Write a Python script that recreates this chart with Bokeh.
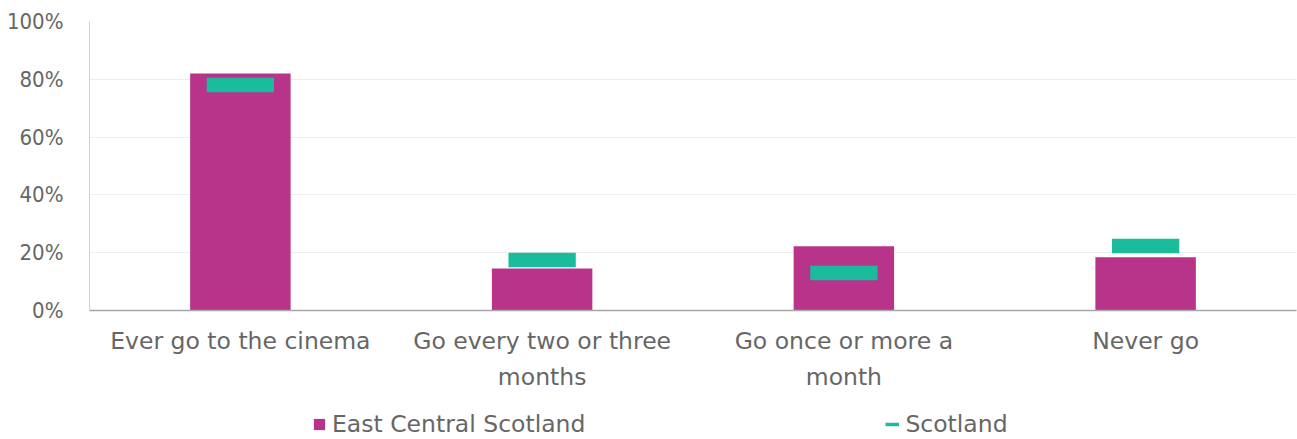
from bokeh.plotting import figure
from bokeh.layouts import column
from bokeh.models import (ColumnDataSource, Legend, LegendItem, NumeralTickFormatter,
                          FixedTicker, CategoricalAxis, FactorRange)
from bokeh.embed import file_html
from bokeh.resources import INLINE

categories = ["Ever go to the cinema", "Go every two or three months", "Go once or more a month", "Never go"]
label_line1 = ["Ever go to the cinema", "Go every two or three", "Go once or more a", "Never go"]
label_line2 = [" ", "months", "month", "  "]
east_central = [0.82, 0.145, 0.222, 0.184]
scotland = [0.78, 0.175, 0.13, 0.223]
y_ticks = [0, 0.2, 0.4, 0.6, 0.8, 1.0]
series_names = ["East Central Scotland", "Scotland"]

MAGENTA = "#B8348A"
TEAL = "#1ABC9C"
GREY = "#666666"
FONT = "DejaVu Sans"
FONT_Y = "DejaVu Sans Condensed"
FS = "23.5px"

src = ColumnDataSource(dict(cat=categories, ecs=east_central, sco=scotland))

p = figure(x_range=FactorRange(factors=categories), y_range=(0, 1), width=1297, height=400,
           output_backend="svg", toolbar_location=None, x_axis_location=None,
           min_border_left=89, min_border_right=1, min_border_top=21, min_border_bottom=90)
p.extra_x_ranges = {"l1": FactorRange(factors=label_line1), "l2": FactorRange(factors=label_line2)}
p.outline_line_color = None
p.background_fill_color = "white"

bars = p.vbar(x="cat", top="ecs", width=0.333, source=src, fill_color=MAGENTA, line_color=None)
marks = p.rect(x="cat", y="sco", width=0.223, height=14.5, height_units="screen",
               source=src, fill_color=TEAL, line_color=None)

p.yaxis.ticker = FixedTicker(ticks=y_ticks)
p.yaxis.formatter = NumeralTickFormatter(format="0%")
p.yaxis.major_label_text_font = FONT_Y
p.yaxis.major_label_text_font_size = "22px"
p.yaxis.major_label_text_color = GREY
p.yaxis.major_tick_line_color = None
p.yaxis.major_tick_out = 0
p.yaxis.minor_tick_line_color = None
p.yaxis.axis_line_color = "#d4d4d4"
p.yaxis.major_label_standoff = 26

xa1 = CategoricalAxis(x_range_name="l1",
                      major_label_text_font=FONT, major_label_text_font_size=FS,
                      major_label_text_color=GREY, major_tick_line_color=None,
                      major_tick_out=0, axis_line_color="#a6a6a6", axis_line_width=1.5,
                      major_label_standoff=16)
xa2 = CategoricalAxis(x_range_name="l2",
                      major_label_text_font=FONT, major_label_text_font_size=FS,
                      major_label_text_color=GREY, major_tick_line_color=None,
                      major_tick_out=0, axis_line_color=None, major_label_standoff=5)
p.add_layout(xa1, "below")
p.add_layout(xa2, "below")

p.xgrid.grid_line_color = None
p.ygrid.grid_line_color = "#eeeeee"

# legend strip
lg = figure(width=1297, height=39, output_backend="svg", toolbar_location=None,
            x_axis_location=None, y_axis_location=None, min_border=0)
lg.outline_line_color = None
lg.xgrid.visible = False
lg.ygrid.visible = False
r_sq = lg.vbar(x=[0], top=[0], width=0, fill_color=MAGENTA, line_color=None)
r_ln = lg.line(x=[0], y=[0], line_color=TEAL, line_width=3.5)
legend = Legend(items=[LegendItem(label=series_names[0], renderers=[r_sq]),
                       LegendItem(label=series_names[1], renderers=[r_ln])],
                orientation="horizontal", location=(223, 1),
                glyph_width=14, glyph_height=14, label_standoff=6, spacing=300,
                label_text_font=FONT, label_text_font_size=FS, label_text_color=GREY,
                border_line_color=None, background_fill_alpha=0, padding=0, margin=0)
lg.add_layout(legend, "center")

layout = column(p, lg, spacing=0)
open("out.html", "w").write(file_html(layout, INLINE))
